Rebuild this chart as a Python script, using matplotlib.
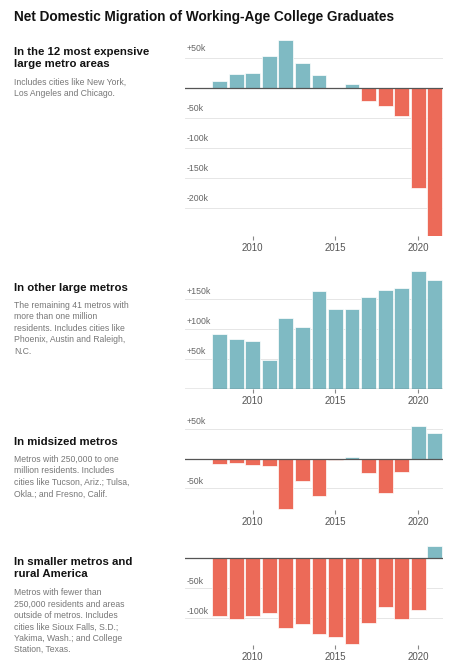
import matplotlib
matplotlib.use("Agg")
import matplotlib.pyplot as plt
plt.rcParams['font.family'] = ['Liberation Sans', 'DejaVu Sans']

years = list(range(2008, 2022))
expensive = [12, 23, 25, 53, 80, 42, 22, 0, 7, -22, -30, -47, -166, -246]
other_large = [92, 84, 80, 49, 119, 103, 163, 133, 134, 153, 166, 168, 197, 182]
midsized = [-9, -7, -10, -12, -85, -37, -62, -2, 2, -25, -57, -23, 55, 42]
smaller = [-96, -102, -96, -92, -117, -110, -126, -131, -144, -108, -81, -101, -87, 21]

titles = ["In the 12 most expensive\nlarge metro areas", "In other large metros",
          "In midsized metros", "In smaller metros and\nrural America"]
descs = ["Includes cities like New York,\nLos Angeles and Chicago.",
         "The remaining 41 metros with\nmore than one million\nresidents. Includes cities like\nPhoenix, Austin and Raleigh,\nN.C.",
         "Metros with 250,000 to one\nmillion residents. Includes\ncities like Tucson, Ariz.; Tulsa,\nOkla.; and Fresno, Calif.",
         "Metros with fewer than\n250,000 residents and areas\noutside of metros. Includes\ncities like Sioux Falls, S.D.;\nYakima, Wash.; and College\nStation, Texas."]
ticks_k = [[50, -50, -100, -150, -200], [50, 100, 150], [50, -50], [-50, -100]]
ylims = [(-246, 85), (0, 197), (-86, 56), (-145, 22)]
boxes = [(37, 236), (271, 389), (425, 510), (545, 645)]
series = [expensive, other_large, midsized, smaller]
text_y = [47, 283, 437, 557]

W, H = 473, 669
fig = plt.figure(figsize=(W/100, H/100), dpi=100)
fig.patch.set_facecolor("white")
fig.text(14/W, 1-17/H, "Net Domestic Migration of Working-Age College Graduates",
         fontsize=9.8, fontweight="bold", va="center", ha="left", color="#121212")
TEAL, RED = "#7fbac3", "#ec6a58"
x0, x1 = 185, 443
for i in range(4):
    top, bot = boxes[i]
    ax = fig.add_axes([x0/W, 1-bot/H, (x1-x0)/W, (bot-top)/H])
    vals = series[i]
    cols = [TEAL if v >= 0 else RED for v in vals]
    ax.bar(years, vals, width=0.9, color=cols, edgecolor="white", linewidth=0.5, zorder=2)
    ax.set_xlim(2005.9, 2021.5)
    ax.set_ylim(*ylims[i])
    ax.axhline(0, color="#555555", lw=0.9, zorder=3)
    for t in ticks_k[i]:
        ax.axhline(t, color="#e6e6e6", lw=0.7, zorder=1)
        lab = ("+%dk" % t) if t > 0 else ("%dk" % t)
        ax.text(2006.0, t + 2.5 * (ylims[i][1]-ylims[i][0]) / 100, lab, fontsize=6.3,
                color="#666666", va="bottom", ha="left")
    for s in ax.spines.values():
        s.set_visible(False)
    ax.set_yticks([])
    ax.set_xticks([2010, 2015, 2020])
    ax.tick_params(axis="x", length=3, color="#888888", labelsize=7, labelcolor="#555555", pad=2)
    ax.patch.set_alpha(0)
    fig.text(14/W, 1-text_y[i]/H, titles[i], fontsize=8.2, fontweight="bold", va="top",
             ha="left", color="#121212", linespacing=1.2)
    nlines = titles[i].count("\n") + 1
    fig.text(14/W, 1-(text_y[i] + 13*nlines + 5)/H, descs[i], fontsize=6.2, va="top",
             ha="left", color="#777777", linespacing=1.35)
fig.savefig("out.png", dpi=100)
